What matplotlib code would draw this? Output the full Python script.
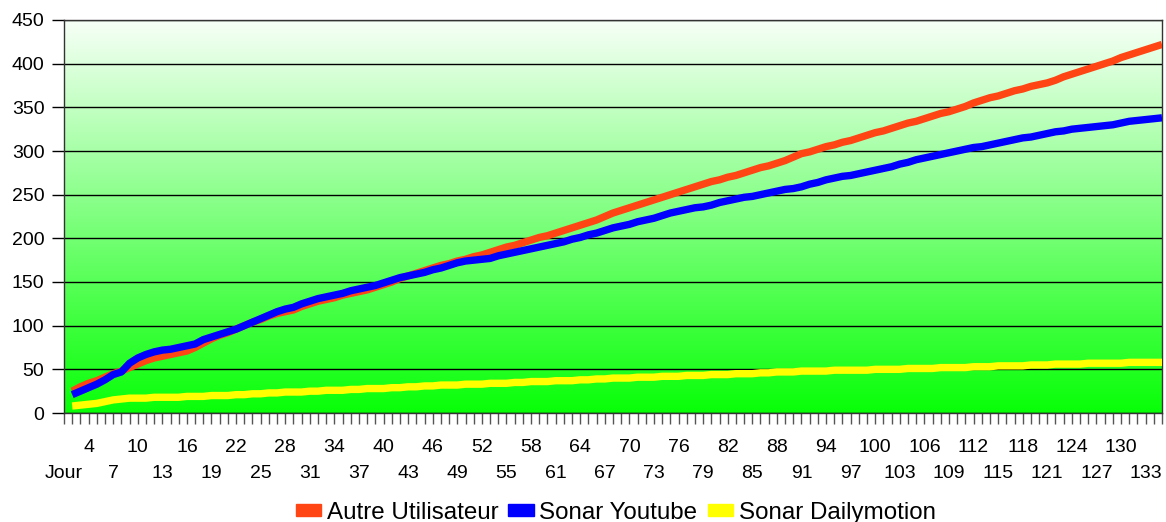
import numpy as np
import matplotlib
matplotlib.use('Agg')
import matplotlib.pyplot as plt
from matplotlib.patches import Patch

plt.rcParams['font.family'] = ['Liberation Sans', 'DejaVu Sans']

# jours (la 1re position de l'axe porte l'en-tete "Jour")
days = list(range(2, 136))

autre_utilisateur = [
    25, 30, 34, 37, 41, 45, 48, 52, 56, 60,
    63, 65, 67, 69, 71, 75, 80, 85, 89, 92,
    96, 100, 104, 107, 111, 114, 116, 118, 122, 125,
    128, 130, 132, 135, 137, 139, 141, 144, 147, 150,
    154, 157, 160, 163, 166, 169, 171, 174, 176, 179,
    181, 184, 187, 190, 192, 195, 198, 201, 203, 206,
    209, 212, 215, 218, 221, 225, 229, 232, 235, 238,
    241, 244, 247, 250, 253, 256, 259, 262, 265, 267,
    270, 272, 275, 278, 281, 283, 286, 289, 293, 297,
    299, 302, 305, 307, 310, 312, 315, 318, 321, 323,
    326, 329, 332, 334, 337, 340, 343, 345, 348, 351,
    355, 358, 361, 363, 366, 369, 371, 374, 376, 378,
    381, 385, 388, 391, 394, 397, 400, 403, 407, 410,
    413, 416, 419, 422]

sonar_youtube = [
    21, 25, 29, 33, 38, 44, 47, 57, 63, 67,
    70, 72, 73, 75, 77, 79, 84, 87, 90, 93,
    96, 100, 104, 108, 112, 116, 119, 121, 125, 128,
    131, 133, 135, 137, 140, 142, 144, 146, 149, 152,
    155, 157, 159, 161, 164, 166, 169, 172, 174, 175,
    176, 177, 180, 182, 184, 186, 188, 190, 192, 194,
    196, 199, 201, 204, 206, 209, 212, 214, 216, 219,
    221, 223, 226, 229, 231, 233, 235, 236, 238, 241,
    243, 245, 247, 248, 250, 252, 254, 256, 257, 259,
    262, 264, 267, 269, 271, 272, 274, 276, 278, 280,
    282, 285, 287, 290, 292, 294, 296, 298, 300, 302,
    304, 305, 307, 309, 311, 313, 315, 316, 318, 320,
    322, 323, 325, 326, 327, 328, 329, 330, 332, 334,
    335, 336, 337, 338]

sonar_dailymotion = [
    8, 9, 10, 11, 13, 15, 16, 17, 17, 17,
    18, 18, 18, 18, 19, 19, 19, 20, 20, 20,
    21, 21, 22, 22, 23, 23, 24, 24, 24, 25,
    25, 26, 26, 26, 27, 27, 28, 28, 28, 29,
    29, 30, 30, 31, 31, 32, 32, 32, 33, 33,
    33, 34, 34, 34, 35, 35, 36, 36, 36, 37,
    37, 37, 38, 38, 39, 39, 40, 40, 40, 41,
    41, 41, 42, 42, 42, 43, 43, 43, 44, 44,
    44, 45, 45, 45, 46, 46, 47, 47, 47, 48,
    48, 48, 48, 49, 49, 49, 49, 49, 50, 50,
    50, 50, 51, 51, 51, 51, 52, 52, 52, 52,
    53, 53, 53, 54, 54, 54, 54, 55, 55, 55,
    56, 56, 56, 56, 57, 57, 57, 57, 57, 58,
    58, 58, 58, 58]

label_days = list(range(1, 134, 3))
label_texts = ['Jour'] + [str(d) for d in label_days[1:]]

series_names = ['Autre Utilisateur', 'Sonar Youtube', 'Sonar Dailymotion']
series_colors = ['#ff4513', '#0000ff', '#ffff00']

fig = plt.figure(figsize=(11.66, 5.22), dpi=100)
ax = fig.add_axes([64 / 1166, 109 / 522, 1098 / 1166, 393 / 522])

# fond en degrade blanc -> vert
t = np.linspace(0, 1, 256)[:, None]
top = np.array([0.97, 1.0, 0.97])
bottom = np.array([0.03, 1.0, 0.03])
grad = top[None, None, :] * (1 - t[:, :, None]) + bottom[None, None, :] * t[:, :, None]
ax.imshow(grad, extent=(1, 135, 0, 450), aspect='auto', origin='upper', zorder=0)

# courbes
ax.plot(days, autre_utilisateur, color=series_colors[0], lw=5.3,
        solid_joinstyle='round', solid_capstyle='butt', zorder=3)
ax.plot(days, sonar_youtube, color=series_colors[1], lw=5.3,
        solid_joinstyle='round', solid_capstyle='butt', zorder=4)
ax.plot(days, sonar_dailymotion, color=series_colors[2], lw=5.3,
        solid_joinstyle='round', solid_capstyle='butt', zorder=5)

ax.set_xlim(1, 135)
ax.set_ylim(0, 450)
ax.set_yticks(range(0, 451, 50))
ax.set_axisbelow(True)
ax.yaxis.grid(True, color='black', lw=1.0)

ax.set_xticks(range(1, 136))
ax.set_xticklabels([])
ax.tick_params(axis='x', length=8, width=1, color='#555555', direction='out')
ax.tick_params(axis='y', length=8.6, width=1, color='black', pad=5.5,
               labelsize=14, direction='out')

for s in ax.spines.values():
    s.set_color('#333333')
    s.set_linewidth(1)

# etiquettes de l'axe x sur deux rangees
for k, (d, lab) in enumerate(zip(label_days, label_texts)):
    off = -34 if k % 2 else -61
    ax.annotate(lab, xy=(d, 0), xycoords=('data', 'axes fraction'),
                xytext=(0, off * 0.72), textcoords='offset points',
                ha='center', va='center', fontsize=14, annotation_clip=False)

handles = [Patch(color=c) for c in series_colors]
fig.legend(handles, series_names, loc='center', bbox_to_anchor=(0.528, 0.018),
           ncol=3, frameon=False, fontsize=17.4, handlelength=1.06,
           handleheight=0.34, handletextpad=0.22, columnspacing=0.42,
           borderpad=0, borderaxespad=0)

fig.savefig('out.png', dpi=100)
